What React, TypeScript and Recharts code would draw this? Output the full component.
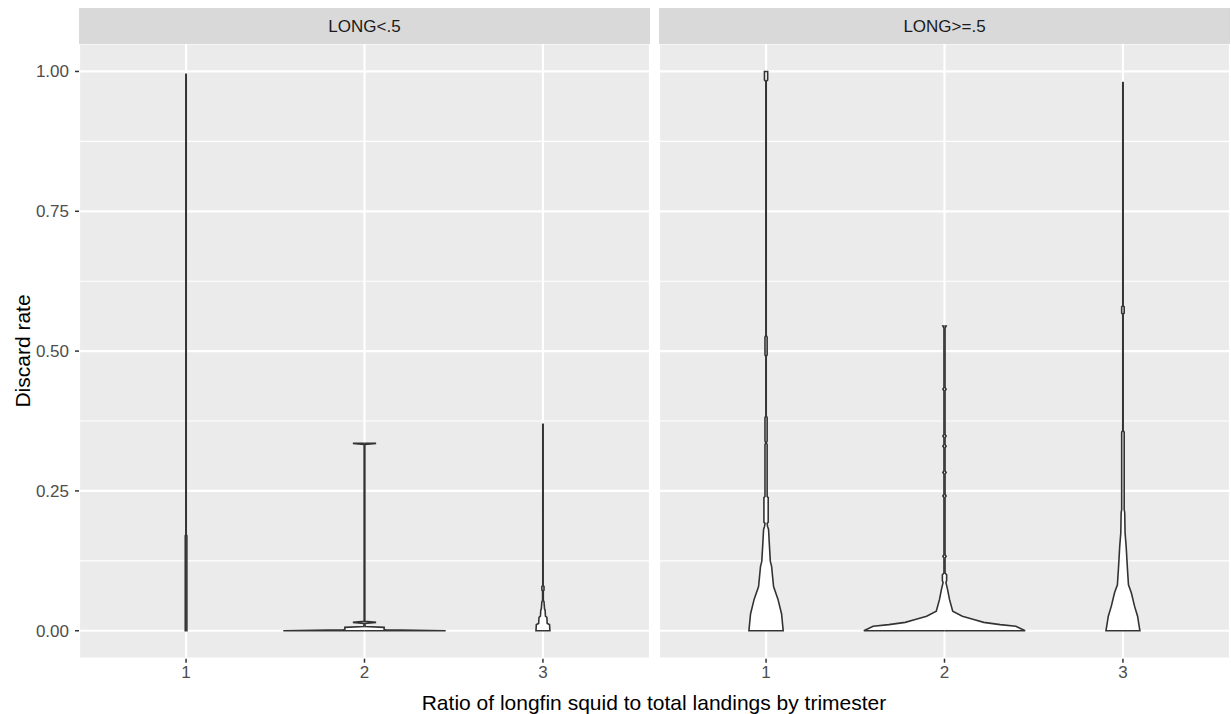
import React from "react";
import { ComposedChart, Area, XAxis, YAxis, CartesianGrid } from "recharts";

const categories = [1, 2, 3];
const yTicks = [0, 0.25, 0.5, 0.75, 1];
const yMinor = [0.125, 0.375, 0.625, 0.875];
const facetLabels = ["LONG<.5", "LONG>=.5"];

// violin outlines: discard rate levels (y) and half width in category units (w)
// facet LONG<.5
const lowT1Y = [0, 0.17, 0.172, 0.995];
const lowT1W = [0.0045, 0.0045, 0.001, 0.001];
const lowT2Y = [0, 0.0015, 0.002, 0.006, 0.0075, 0.013, 0.015, 0.017, 0.333, 0.335];
const lowT2W = [0.455, 0.12, 0.11, 0.11, 0.004, 0.002, 0.065, 0.002, 0.002, 0.065];
const lowT3Y = [0, 0.011, 0.013, 0.024, 0.026, 0.037, 0.039, 0.052, 0.054, 0.071, 0.073, 0.079, 0.081, 0.369];
const lowT3W = [0.039, 0.037, 0.024, 0.022, 0.014, 0.012, 0.009, 0.006, 0.002, 0.002, 0.006, 0.006, 0.001, 0.001];

// facet LONG>=.5
const highT1Y = [0, 0.03, 0.056, 0.079, 0.115, 0.124, 0.157, 0.181, 0.187, 0.192, 0.194, 0.238, 0.24, 0.333, 0.336, 0.339, 0.381, 0.384, 0.491, 0.493, 0.525, 0.528, 0.982, 0.985, 1.0];
const highT1W = [0.096, 0.087, 0.067, 0.042, 0.031, 0.024, 0.018, 0.014, 0.008, 0.006, 0.012, 0.012, 0.006, 0.006, 0.001, 0.006, 0.006, 0.001, 0.001, 0.006, 0.006, 0.001, 0.001, 0.009, 0.009];
const highT2Y = [0, 0.008, 0.011, 0.015, 0.02, 0.026, 0.035, 0.056, 0.074, 0.086, 0.09, 0.1, 0.103, 0.13, 0.133, 0.136, 0.238, 0.241, 0.244, 0.28, 0.283, 0.286, 0.327, 0.33, 0.333, 0.345, 0.348, 0.351, 0.429, 0.432, 0.435, 0.541, 0.545];
const highT2W = [0.452, 0.4, 0.312, 0.22, 0.164, 0.1, 0.046, 0.028, 0.017, 0.008, 0.012, 0.012, 0.003, 0.003, 0.009, 0.003, 0.003, 0.009, 0.003, 0.003, 0.009, 0.003, 0.003, 0.009, 0.003, 0.003, 0.009, 0.003, 0.003, 0.009, 0.003, 0.003, 0.009];
const highT3Y = [0, 0.026, 0.044, 0.068, 0.082, 0.112, 0.151, 0.175, 0.211, 0.217, 0.355, 0.358, 0.566, 0.568, 0.579, 0.581, 0.98];
const highT3W = [0.095, 0.082, 0.065, 0.047, 0.031, 0.025, 0.018, 0.012, 0.01, 0.007, 0.007, 0.001, 0.001, 0.007, 0.007, 0.001, 0.001];

type Violin = { cat: number; y: number[]; w: number[] };

const lowViolins: Violin[] = [
  { cat: categories[0], y: lowT1Y, w: lowT1W },
  { cat: categories[1], y: lowT2Y, w: lowT2W },
  { cat: categories[2], y: lowT3Y, w: lowT3W },
];
const highViolins: Violin[] = [
  { cat: categories[0], y: highT1Y, w: highT1W },
  { cat: categories[1], y: highT2Y, w: highT2W },
  { cat: categories[2], y: highT3Y, w: highT3W },
];

// rows for a ranged area; zero-width rows at both ends close the outline
const toRows = ({ cat, y, w }: Violin) => {
  const rows = y.map((v, i) => ({ y: v, range: [cat - w[i], cat + w[i]] }));
  return [{ y: y[0], range: [cat, cat] }, ...rows, { y: y[y.length - 1], range: [cat, cat] }];
};

const tickStyle = { fill: "#4D4D4D", fontSize: 17 };

const Panel = ({ violins, showY, width }: { violins: Violin[]; showY: boolean; width: number }) => (
  <ComposedChart
    layout="vertical"
    width={width}
    height={714}
    margin={{ top: 43.5, right: 0, bottom: 0, left: 0 }}
  >
    <CartesianGrid fill="#EBEBEB" stroke="#FFFFFF" strokeWidth={2.2} />
    <CartesianGrid vertical={false} horizontalValues={yMinor} stroke="#FFFFFF" strokeWidth={1.1} />
    <XAxis
      type="number"
      domain={[0.4, 3.6]}
      ticks={categories}
      allowDataOverflow
      axisLine={false}
      tickLine={{ stroke: "#333333", strokeWidth: 1.5 }}
      tickSize={4}
      tickMargin={3}
      tick={tickStyle}
      height={55.3}
    />
    <YAxis
      type="number"
      dataKey="y"
      domain={[-0.05, 1.05]}
      ticks={yTicks}
      allowDataOverflow
      reversed
      hide={!showY}
      width={79}
      axisLine={false}
      tickLine={{ stroke: "#333333", strokeWidth: 1.5 }}
      tickSize={4}
      tickMargin={6}
      tick={tickStyle}
      tickFormatter={(v: number) => v.toFixed(2)}
    />
    {violins.map((v) => (
      <Area
        key={v.cat}
        data={toRows(v)}
        dataKey="range"
        type="linear"
        stroke="#333333"
        strokeWidth={1.6}
        fill="#FFFFFF"
        fillOpacity={1}
        dot={false}
        activeDot={false}
        isAnimationActive={false}
      />
    ))}
  </ComposedChart>
);

const stripStyle: React.CSSProperties = {
  position: "absolute",
  top: 8,
  height: 36,
  width: 571,
  background: "#D9D9D9",
  color: "#1A1A1A",
  fontSize: 17,
  display: "flex",
  alignItems: "center",
  justifyContent: "center",
  paddingTop: 2,
  boxSizing: "border-box",
};

export default function App() {
  return (
    <div
      style={{
        position: "absolute",
        left: 0,
        top: 0,
        width: 1231,
        height: 714,
        background: "#FFFFFF",
        fontFamily: "'Liberation Sans', Arial, sans-serif",
        overflow: "hidden",
      }}
    >
      <div style={{ position: "absolute", left: 0, top: 0 }}>
        <Panel violins={lowViolins} showY width={650} />
      </div>
      <div style={{ position: "absolute", left: 659, top: 0 }}>
        <Panel violins={highViolins} showY={false} width={571} />
      </div>
      <div style={{ ...stripStyle, left: 79 }}>{facetLabels[0]}</div>
      <div style={{ ...stripStyle, left: 659 }}>{facetLabels[1]}</div>
      <div
        style={{
          position: "absolute",
          left: 654,
          top: 692,
          transform: "translateX(-50%)",
          fontSize: 21,
          lineHeight: "21px",
          whiteSpace: "nowrap",
          color: "#000000",
        }}
      >
        Ratio of longfin squid to total landings by trimester
      </div>
      <div
        style={{
          position: "absolute",
          left: 22,
          top: 351,
          transform: "translate(-50%, -50%) rotate(-90deg)",
          fontSize: 21,
          lineHeight: "21px",
          whiteSpace: "nowrap",
          color: "#000000",
        }}
      >
        Discard rate
      </div>
    </div>
  );
}
